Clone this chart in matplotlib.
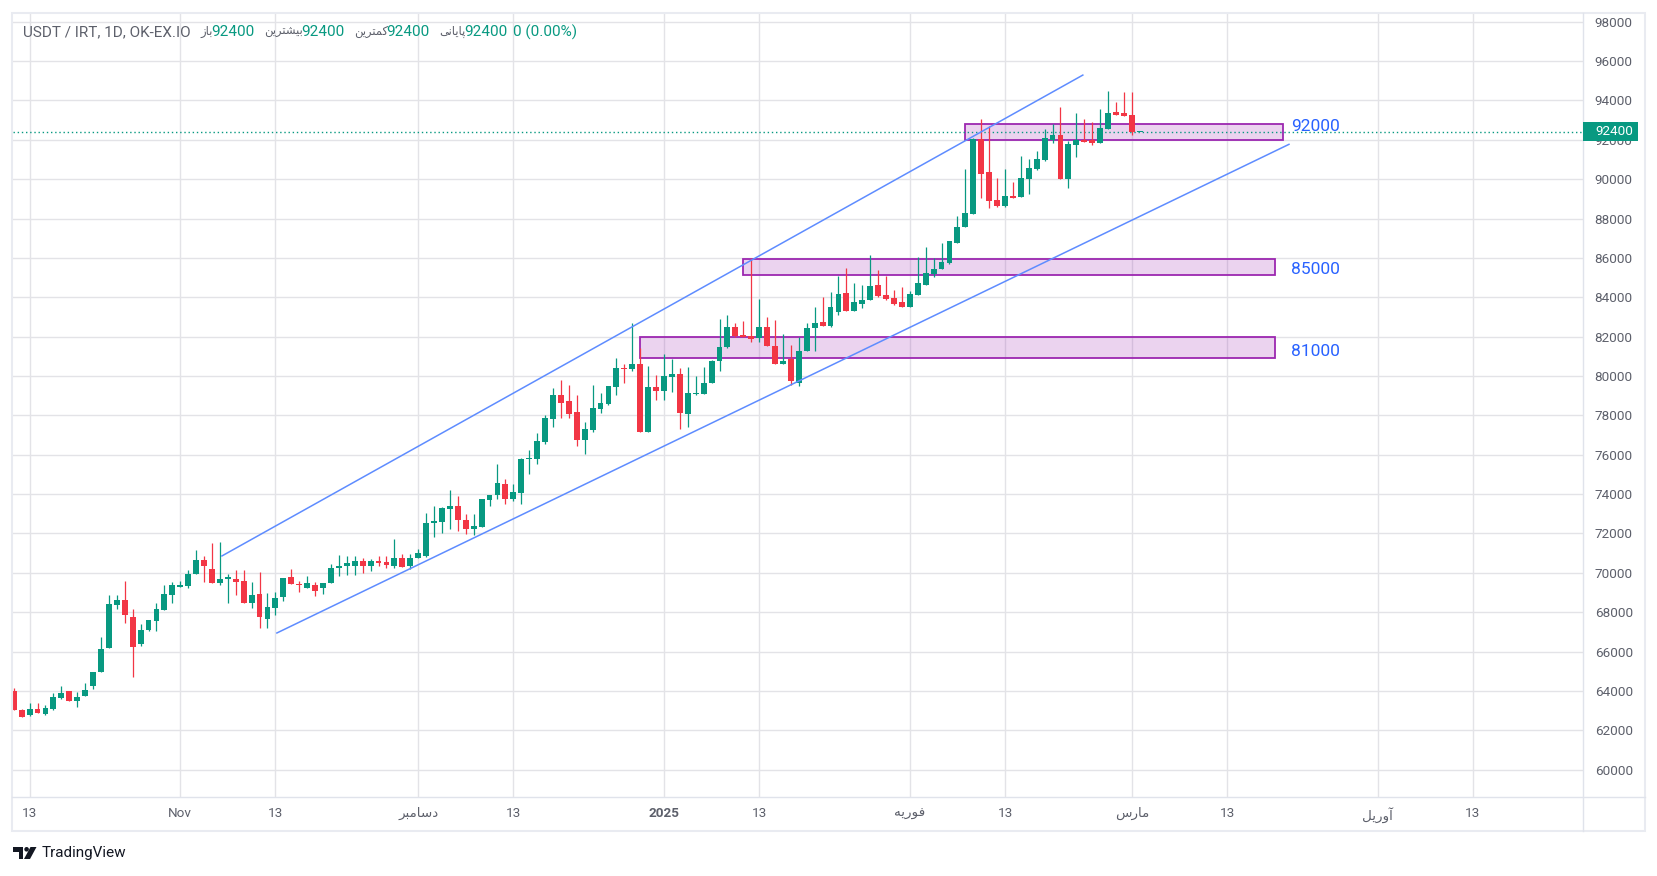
import numpy as np
import pandas as pd
import matplotlib
matplotlib.use('Agg')
import matplotlib.pyplot as plt
import matplotlib.dates as mdates
from matplotlib.patches import Rectangle, Polygon, Circle
from matplotlib.lines import Line2D

plt.rcParams['font.family'] = ['Roboto', 'DejaVu Sans']

# daily candles, 2024-10-11 .. 2025-03-02
dates = pd.date_range('2024-10-11', '2025-03-02', freq='D')
opens = [64020, 63050, 62760, 63100, 62850, 63100, 63660, 64020, 63470, 63730, 64240,
         64950, 66170, 68360, 68640, 67780, 66370, 67120, 67540, 68100, 68900,
         69270, 69320, 69920, 70630, 70220, 69510, 69710, 69710, 69610, 68490,
         68950, 67680, 68190, 68750, 69810, 69410, 69250, 69370, 69220, 69460,
         70240, 70340, 70340, 70580, 70340, 70580, 70530, 70340, 70730, 70340,
         70750, 70880, 72510, 72580, 73240, 73420, 72710, 72220, 72320, 73680,
         73940, 74510, 73760, 74070, 75780, 75800, 76660, 77830, 79020, 78710,
         78170, 76760, 77270, 78340, 78590, 79460, 80410, 80360, 80610, 77170, 79440,
         79250, 79970, 80100, 78080, 79090, 79070, 79630, 80750, 81460, 82510,
         82050, 82050, 81920, 82510, 81540, 80590, 80850, 79640, 81290, 82420,
         82760, 82560, 83240, 84240, 83290, 83640, 83850, 84640, 84140, 83940, 83750,
         83510, 84120, 84630, 85190, 85420, 85730, 86750, 87560, 88240, 92030,
         90360, 88930, 88640, 89140, 89100, 90020, 90530, 90970, 91980, 92240,
         90000, 91730, 91980, 91980, 91830, 92540, 93410, 93360,
         93250, 92400]
highs = [64150, 63090, 63410, 63410, 63300, 63920, 64270, 64020, 63970, 64420, 64980,
         66730, 68900, 68900, 69610, 68140, 67420, 67630, 68490, 69360, 69560,
         69610, 70120, 71140, 70880, 71540, 71590, 69920, 70120, 70170, 69560,
         70020, 69000, 69050, 69760, 70220, 69610, 69860, 69560, 69490, 70460,
         70920, 70880, 70880, 70780, 70680, 70880, 70880, 71700, 70970, 70980,
         71190, 73020, 73420, 73340, 74190, 73920, 73000, 73000, 73760, 73980,
         75510, 74750, 74510, 75850, 76240, 77080, 78020, 79410, 79800, 79530,
         79020, 77640, 79540, 79120, 79490, 80920, 80610, 82700, 81440, 80490, 80050,
         81120, 80880, 80410, 80460, 80020, 80440, 80800, 82920, 83120, 82710,
         82810, 86000, 83930, 83020, 82860, 82140, 81590, 81970, 82710, 83530,
         84020, 84290, 85100, 85510, 84700, 84640, 86170, 85410, 85100, 84350, 84510,
         84320, 86030, 86540, 85980, 86750, 86850, 88120, 90510, 92100, 93050,
         92700, 90050, 90510, 89850, 91170, 91020, 91420, 92540, 92800, 93660,
         91930, 93360, 93050, 92900, 93560, 94480, 93920, 94420,
         94420, 92400]
lows = [63020, 62660, 62710, 62860, 62800, 63050, 63610, 63470, 63170, 63730, 64090,
        64950, 66170, 68140, 67440, 64700, 66270, 67070, 67030, 68100, 68460,
        69270, 69220, 69920, 69560, 69510, 69360, 68460, 68850, 68490, 68240,
        67220, 67220, 67880, 68590, 69410, 69020, 69220, 68810, 68930, 69460,
        69830, 69880, 69880, 69980, 70080, 70340, 70270, 70240, 70290, 70190,
        70750, 70800, 71810, 72020, 72220, 72140, 71970, 71900, 72320, 73390,
        73750, 73510, 73630, 73510, 75030, 75510, 76530, 77390, 77880, 77880,
        76460, 76050, 77170, 78140, 78540, 79050, 79660, 80250, 77170, 77170, 78780,
        78780, 79200, 77320, 77420, 79020, 79070, 79630, 80240, 81410, 82000,
        82000, 81710, 81710, 81510, 80590, 80590, 79530, 79470, 81290, 81250,
        82530, 82510, 83120, 83290, 83290, 83440, 83850, 84030, 83880, 83590, 83510,
        83510, 84120, 84630, 85030, 85420, 85680, 86750, 87560, 88240, 89050,
        88540, 88590, 88590, 89050, 89100, 89250, 90470, 90920, 91830, 90000,
        89540, 91120, 91880, 91730, 91830, 92540, 93250, 93200,
        92240, 92400]
closes = [63020, 62660, 63100, 62860, 63150, 63710, 63920, 63470, 63710, 64070, 64980,
          66150, 68440, 68640, 67850, 66220, 67120, 67580, 68140, 68950, 69360,
          69360, 69920, 70630, 70340, 69510, 69710, 69810, 69560, 68490, 68850,
          67780, 68290, 68700, 69760, 69410, 69370, 69460, 69070, 69460, 70270,
          70370, 70510, 70580, 70340, 70580, 70490, 70390, 70730, 70290, 70780,
          71030, 72510, 72610, 73270, 73420, 72680, 72220, 72360, 73730, 73980,
          74560, 73760, 74100, 75780, 75830, 76700, 77860, 79020, 78640, 78080,
          76760, 77290, 78370, 78610, 79490, 80410, 80370, 80610, 77170, 79440, 79250,
          80000, 80100, 78140, 79140, 79140, 79660, 80780, 81490, 82510, 82050,
          82000, 81860, 82510, 81510, 80590, 80780, 79760, 81290, 82460, 82710,
          82560, 83530, 84190, 83290, 83780, 83880, 84590, 84090, 83900, 83640, 83510,
          84150, 84710, 85220, 85420, 85780, 86850, 87560, 88270, 92030, 90250,
          88900, 88640, 89140, 89050, 90050, 90560, 91020, 92090, 92240, 90000,
          91780, 91980, 91880, 91830, 92590, 93360, 93250, 93200,
          92400, 92400]

# support / resistance zones
zone_start = ['2025-02-08', '2025-01-11', '2024-12-29']
zone_end = ['2025-03-20', '2025-03-19', '2025-03-19']
zone_low = [91970, 85110, 80900]
zone_high = [92780, 85920, 82000]
zone_text = ['92000', '85000', '81000']
zone_text_at = '2025-03-21 03:00'

# channel lines (start date, start price, end date, end price)
upper_line = ('2024-11-06 04:05', 70840, '2025-02-22 21:36', 95307)
lower_line = ('2024-11-13 02:24', 66929, '2025-03-20 21:36', 91787)

last_price = 92400
yticks = list(range(60000, 98001, 2000))
xtick_dates = ['2024-10-13', '2024-11-01', '2024-11-13', '2024-12-01', '2024-12-13',
               '2025-01-01', '2025-01-13', '2025-02-01', '2025-02-13', '2025-03-01',
               '2025-03-13', '2025-04-01', '2025-04-13']
# persian month names, pre-shaped (presentation forms, visual order)
dec_fa = '\uFEAE\uFE92\uFEE3\uFE8E\uFEB3\uFEA9'
feb_fa = '\uFEEA\uFEF3\uFEAD\uFEEE\uFED3'
mar_fa = '\uFEB1\uFEAD\uFE8E\uFEE3'
apr_fa = '\uFEDE\uFEF3\uFEAD\uFEED\uFE81'
xtick_labels = ['13', 'Nov', '13', dec_fa, '13', '2025', '13', feb_fa, '13', mar_fa,
                '13', apr_fa, '13']

UP = '#089981'
DOWN = '#f23645'
GRAY = '#5d606b'
GRID = '#e3e3e7'

W, H = 1658, 876
fig = plt.figure(figsize=(W / 100, H / 100), dpi=100)
fig.patch.set_facecolor('white')

def fx(px):
    return px / W

def fy(py):
    return 1 - py / H

ax = fig.add_axes([fx(12.7), fy(797), (1583 - 12.7) / W, (797 - 13) / H])
for s in ax.spines.values():
    s.set_visible(False)

x = mdates.date2num(dates)
o = np.array(opens); h = np.array(highs); l = np.array(lows); c = np.array(closes)
up = c >= o
cols = np.where(up, UP, DOWN)
body_lo = np.minimum(o, c)
body_h = np.maximum(np.abs(c - o), 60)

ax.vlines(x, l, h, colors=cols, lw=0.9, zorder=3)
ax.bar(x, body_h, bottom=body_lo, width=0.74, color=cols, lw=0, zorder=3)

# label nudges so the text sits where TradingView drew it
label_shift = [315, -125, -200]
for i in range(len(zone_start)):
    a = mdates.date2num(pd.Timestamp(zone_start[i]))
    b = mdates.date2num(pd.Timestamp(zone_end[i]))
    lo, hi = zone_low[i], zone_high[i]
    ax.add_patch(Rectangle((a, lo), b - a, hi - lo, facecolor=(0.61, 0.15, 0.69, 0.2),
                           edgecolor='#9c27b0', lw=1.3, zorder=2))
    ax.text(mdates.date2num(pd.Timestamp(zone_text_at)), (lo + hi) / 2 + label_shift[i],
            zone_text[i], color='#2962ff', fontsize=12.5, va='center', ha='left', zorder=5)

for ln in (upper_line, lower_line):
    xs = mdates.date2num([pd.Timestamp(ln[0]), pd.Timestamp(ln[2])])
    ax.plot(xs, [ln[1], ln[3]], color='#5e8cff', lw=1.1, zorder=4, solid_capstyle='butt')

ax.axhline(last_price, color=UP, ls=(0, (1, 2)), lw=1, zorder=2.5)

x0 = mdates.date2num(pd.Timestamp('2024-10-13')) - 2.13
ax.set_xlim(x0, x0 + 1570.3 / 7.93)
ax.set_ylim(58613, 98442)

ax.set_yticks(yticks)
ax.set_yticklabels([str(v) for v in yticks])
ax.yaxis.tick_right()
ax.set_xticks(mdates.date2num(pd.to_datetime(xtick_dates)))
ax.set_xticklabels(xtick_labels)
ax.tick_params(axis='both', length=0, colors=GRAY, labelsize=9.7)
ax.tick_params(axis='y', pad=8.4)
ax.tick_params(axis='x', pad=7)
for t in ax.get_xticklabels():
    if t.get_text() == '2025':
        t.set_fontweight('bold')
ax.grid(True, color=GRID, lw=1, zorder=0)
ax.set_axisbelow(True)

# frame and separators
fig.add_artist(Line2D([fx(1583), fx(1583)], [fy(13), fy(831)], color='#e0e3eb', lw=1))
fig.add_artist(Line2D([fx(12), fx(1645)], [fy(797), fy(797)], color='#e0e3eb', lw=1))
fig.add_artist(Rectangle((fx(12), fy(831)), fx(1645) - fx(12), fy(13) - fy(831),
                         transform=fig.transFigure, fill=False, edgecolor='#e9ebf1', lw=1.5))

# last price label on the scale
fig.add_artist(Rectangle((fx(1583), fy(140.7)), fx(55), 19 / H, transform=fig.transFigure,
                         facecolor=UP, edgecolor='none', zorder=10))
fig.text(fx(1595), fy(131.5), str(last_price), color='white', fontsize=9.7,
         va='center', ha='left', zorder=11)

# header legend
renderer = fig.canvas.get_renderer()
open_fa = '\uFEAF\uFE8E\uFE91'
high_fa = '\uFEE6\uFEF3\uFEAE\uFE98\uFEB8\uFEF4\uFE91'
low_fa = '\uFEE6\uFEF3\uFEAE\uFE98\uFEE4\uFEDB'
close_fa = '\uFEF0\uFEE7\uFE8E\uFEF3\uFE8E\uFB58'
pieces = [('USDT / IRT, 1D, OK-EX.IO', GRAY, 9, 11),
          (open_fa, GRAY, -1, 8.3), ('92400', UP, 9, 11),
          (high_fa, GRAY, -1, 8.3), ('92400', UP, 9, 11),
          (low_fa, GRAY, -1, 8.3), ('92400', UP, 9, 11),
          (close_fa, GRAY, -1, 8.3), ('92400', UP, 6, 11),
          ('0 (0.00%)', UP, 0, 11)]
xpos = 23.5
for s, col, gap, fs in pieces:
    t = fig.text(fx(xpos), fy(32), s, color=col, fontsize=fs, va='center', ha='left')
    bb = t.get_window_extent(renderer)
    xpos = bb.x1 + gap

# TradingView mark
def lp(px, py):
    return (fx(13 + px), fy(847 + py))

fig.add_artist(Polygon([lp(0, 0), lp(10, 0), lp(10, 12), lp(5.5, 12), lp(5.5, 4.5), lp(0, 4.5)],
                       closed=True, transform=fig.transFigure, facecolor='#131722', edgecolor='none'))
fig.add_artist(Polygon([lp(17.5, 0), lp(23.5, 0), lp(17, 12), lp(11, 12)],
                       closed=True, transform=fig.transFigure, facecolor='#131722', edgecolor='none'))
cx, cy = lp(13.6, 2.3)
fig.add_artist(Circle((cx * W, cy * H), 2.3, transform=None, facecolor='#131722', edgecolor='none'))
fig.text(fx(42), fy(853), 'TradingView', color='#131722', fontsize=11, va='center', ha='left')

fig.savefig('out.png', dpi=100, facecolor='white')
